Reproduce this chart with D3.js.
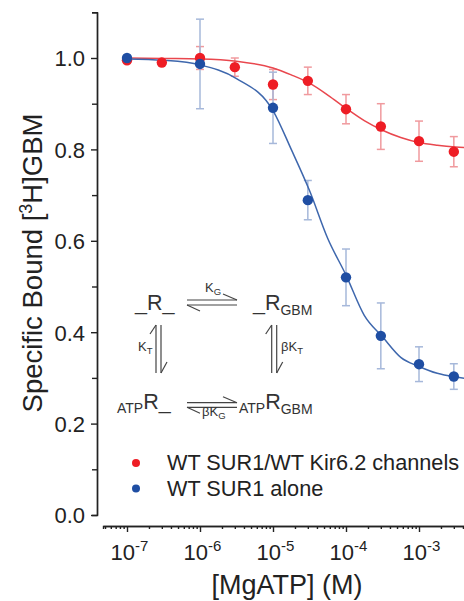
<!DOCTYPE html>
<html>
<head>
<meta charset="utf-8">
<script src="https://cdn.jsdelivr.net/npm/d3@7"></script>
<style>
  body { margin: 0; background: #fff; }
  svg { display: block; font-family: "Liberation Sans", Arial, sans-serif; }
  .axis path, .axis line { stroke: #222; stroke-width: 1.4; }
  .axis text { fill: #222; font-family: "Liberation Sans", Arial, sans-serif; }
</style>
</head>
<body>
<div id="chart"></div>
<script>
// Data
var concRed = [1e-7, 3e-7, 1e-6, 3e-6, 1e-5, 3e-5, 1e-4, 3e-4, 1e-3, 3e-3];
var boundRed = [0.995, 0.99, 1.0, 0.98, 0.942, 0.95, 0.888, 0.85, 0.818, 0.795];
var errRed = [0.005, 0.005, 0.025, 0.02, 0.033, 0.03, 0.032, 0.05, 0.044, 0.033];

var concBlue = [1e-7, 1e-6, 1e-5, 3e-5, 1e-4, 3e-4, 1e-3, 3e-3];
var boundBlue = [1.0, 0.987, 0.891, 0.689, 0.52, 0.392, 0.33, 0.303];
var errBlue = [0.005, 0.098, 0.078, 0.043, 0.062, 0.072, 0.038, 0.028];

// fitted curves, read at log10 concentrations
var fitLogConc = [-7, -6.5, -6, -5.5, -5, -4.75, -4.5, -4.25, -4, -3.75, -3.5, -3.25, -3, -2.75, -2.5, -2.25];
var fitRed = [1.0, 0.999, 0.998, 0.993, 0.978, 0.963, 0.945, 0.919, 0.89, 0.863, 0.842, 0.826, 0.815, 0.809, 0.805, 0.803];
var fitBlue = [0.998, 0.995, 0.985, 0.955, 0.885, 0.80, 0.71, 0.605, 0.525, 0.437, 0.39, 0.345, 0.325, 0.31, 0.302, 0.297];

var yTicks = [0, 0.2, 0.4, 0.6, 0.8, 1.0];
var yMinorTicks = [0.1, 0.3, 0.5, 0.7, 0.9, 1.1];
var xDecades = [-7, -6, -5, -4, -3];
var legendLabels = ["WT SUR1/WT Kir6.2 channels", "WT SUR1 alone"];

var redColor = "#ee1d25";
var blueColor = "#1f4ea3";

// Canvas
var width = 464;
var height = 601;

var svg = d3.select("#chart")
  .append("svg")
  .attr("width", width)
  .attr("height", height);

// Scales
var xScale = d3.scaleLog().domain([1e-7, 1e-3]).range([127, 419]);
var yScale = d3.scaleLinear().domain([0, 1]).range([515, 58]);

// x axis spans a bit wider than the data decades
var xAxisScale = xScale.copy()
  .domain([xScale.invert(103), xScale.invert(480)])
  .range([103, 480]);

var xMinor = [];
for (var e = -8; e <= -3; e++) {
  for (var m = 2; m <= 9; m++) {
    var v = m * Math.pow(10, e);
    if (v > xAxisScale.domain()[0] && v < xAxisScale.domain()[1]) xMinor.push(v);
  }
}

// Minor x ticks
svg.append("g")
  .attr("class", "axis")
  .attr("transform", "translate(0,526)")
  .call(d3.axisBottom(xAxisScale).tickValues(xMinor).tickSize(3).tickFormat(""));

// Major x ticks
var xAxisG = svg.append("g")
  .attr("class", "axis")
  .attr("transform", "translate(0,526)")
  .call(d3.axisBottom(xAxisScale)
    .tickValues(xDecades.map(function(d) { return Math.pow(10, d); }))
    .tickSize(6)
    .tickSizeOuter(0)
    .tickFormat(""));

xAxisG.selectAll(".tick")
  .append("text")
  .attr("y", 34)
  .attr("x", 2)
  .attr("text-anchor", "middle")
  .attr("font-size", 22)
  .each(function(d) {
    var t = d3.select(this);
    t.append("tspan").text("10");
    t.append("tspan")
      .attr("font-size", 15)
      .attr("dy", -9)
      .text(Math.round(Math.log10(d)));
  });

// y axis
var yAxisScale = yScale.copy().domain([0, 1.1]).range([515, 12.3]);

svg.append("g")
  .attr("class", "axis")
  .attr("transform", "translate(97,0)")
  .call(d3.axisLeft(yAxisScale).tickValues(yMinorTicks).tickSize(5).tickFormat(""));

var yAxisG = svg.append("g")
  .attr("class", "axis")
  .attr("transform", "translate(97,0)")
  .call(d3.axisLeft(yAxisScale)
    .tickValues(yTicks)
    .tickSize(6)
    .tickSizeOuter(0)
    .tickFormat(d3.format(".1f")));

yAxisG.selectAll("text")
  .attr("font-size", 22)
  .attr("x", -12)
  .attr("dy", "0.36em");

// Axis titles
svg.append("text")
  .attr("x", 287)
  .attr("y", 594)
  .attr("text-anchor", "middle")
  .attr("font-size", 27)
  .attr("fill", "#222")
  .text("[MgATP] (M)");

var yTitle = svg.append("text")
  .attr("transform", "translate(42,263)rotate(-90)")
  .attr("text-anchor", "middle")
  .attr("font-size", 27.5)
  .attr("fill", "#222");
yTitle.append("tspan").text("Specific Bound [");
yTitle.append("tspan").attr("font-size", 18).attr("dy", -10).text("3");
yTitle.append("tspan").attr("dy", 10).text("H]GBM");

// Clip for curves at the plot edge
svg.append("clipPath").attr("id", "plotClip")
  .append("rect").attr("x", 98).attr("y", 0).attr("width", width - 98).attr("height", 520);

var plot = svg.append("g").attr("clip-path", "url(#plotClip)");

function drawErrors(conc, vals, errs, color) {
  conc.forEach(function(c, i) {
    var x = xScale(c);
    var y1 = yScale(vals[i] + errs[i]);
    var y2 = yScale(vals[i] - errs[i]);
    plot.append("line")
      .attr("x1", x).attr("x2", x).attr("y1", y1).attr("y2", y2)
      .attr("stroke", color).attr("stroke-width", 1.5);
    [y1, y2].forEach(function(yy) {
      plot.append("line")
        .attr("x1", x - 4).attr("x2", x + 4).attr("y1", yy).attr("y2", yy)
        .attr("stroke", color).attr("stroke-width", 1.5);
    });
  });
}

drawErrors(concRed, boundRed, errRed, "#f09a9e");
drawErrors(concBlue, boundBlue, errBlue, "#a6b8da");

var fitLine = function(vals) {
  return d3.line()
    .x(function(d, i) { return xScale(Math.pow(10, fitLogConc[i])); })
    .y(function(d) { return yScale(d); })
    .curve(d3.curveMonotoneX)(vals);
};

plot.append("path")
  .attr("d", fitLine(fitRed))
  .attr("fill", "none")
  .attr("stroke", "#e9474e")
  .attr("stroke-width", 1.5);

plot.append("path")
  .attr("d", fitLine(fitBlue))
  .attr("fill", "none")
  .attr("stroke", "#3e67ad")
  .attr("stroke-width", 1.5);

plot.selectAll("circle.red")
  .data(concRed)
  .enter()
  .append("circle")
  .attr("class", "red")
  .attr("cx", function(d) { return xScale(d); })
  .attr("cy", function(d, i) { return yScale(boundRed[i]); })
  .attr("r", 5.2)
  .attr("fill", redColor);

plot.selectAll("circle.blue")
  .data(concBlue)
  .enter()
  .append("circle")
  .attr("class", "blue")
  .attr("cx", function(d) { return xScale(d); })
  .attr("cy", function(d, i) { return yScale(boundBlue[i]); })
  .attr("r", 5.2)
  .attr("fill", blueColor);

// Legend
var legendColors = [redColor, blueColor];
legendLabels.forEach(function(lab, i) {
  svg.append("circle")
    .attr("cx", 136).attr("cy", 463 + i * 25.5).attr("r", 4)
    .attr("fill", legendColors[i]);
  svg.append("text")
    .attr("x", 167).attr("y", 470 + i * 26)
    .attr("font-size", 21.7)
    .attr("fill", "#222")
    .text(lab);
});

// Reaction scheme
var scheme = svg.append("g").attr("fill", "#333");
var sk = "#444";

function species(x, y, pre, sub) {
  var t = scheme.append("text").attr("x", x).attr("y", y).attr("font-size", 21.5);
  if (pre) t.append("tspan").attr("font-size", 14).attr("dy", 4).text(pre);
  t.append("tspan").attr("dy", pre ? -4 : 0).text(pre ? "R" : "_R");
  if (sub) t.append("tspan").attr("font-size", 14).attr("dy", 5).text(sub);
  else t.append("tspan").text("_");
}
species(135, 310, null, null);
species(253, 310, null, "GBM");
species(117, 409, "ATP", null);
species(239, 409, "ATP", "GBM");

function seg(x1, y1, x2, y2) {
  scheme.append("line")
    .attr("x1", x1).attr("y1", y1).attr("x2", x2).attr("y2", y2)
    .attr("stroke", sk).attr("stroke-width", 1.2);
}
// horizontal equilibria
[[300, 305], [402.7, 407.3]].forEach(function(p) {
  seg(187, p[0], 237, p[0]);
  seg(237, p[0], 223, p[0] - 6);
  seg(187, p[1], 237, p[1]);
  seg(187, p[1], 200, p[1] + 6);
});
// vertical equilibria
[[156, 161], [271.7, 276.7]].forEach(function(p) {
  seg(p[0], 325, p[0], 373);
  seg(p[0], 325, p[0] - 6, 334);
  seg(p[1], 325, p[1], 373);
  seg(p[1], 373, p[1] + 6, 362);
});

function rateLabel(x, y, main, sub) {
  var t = scheme.append("text").attr("x", x).attr("y", y).attr("font-size", 13);
  t.append("tspan").text(main);
  t.append("tspan").attr("font-size", 9.5).attr("dy", 3).text(sub);
}
rateLabel(205, 292, "K", "G");
rateLabel(138, 351, "K", "T");
rateLabel(281, 351, "\u03B2K", "T");
rateLabel(202, 416, "\u03B2K", "G");
</script>
</body>
</html>
